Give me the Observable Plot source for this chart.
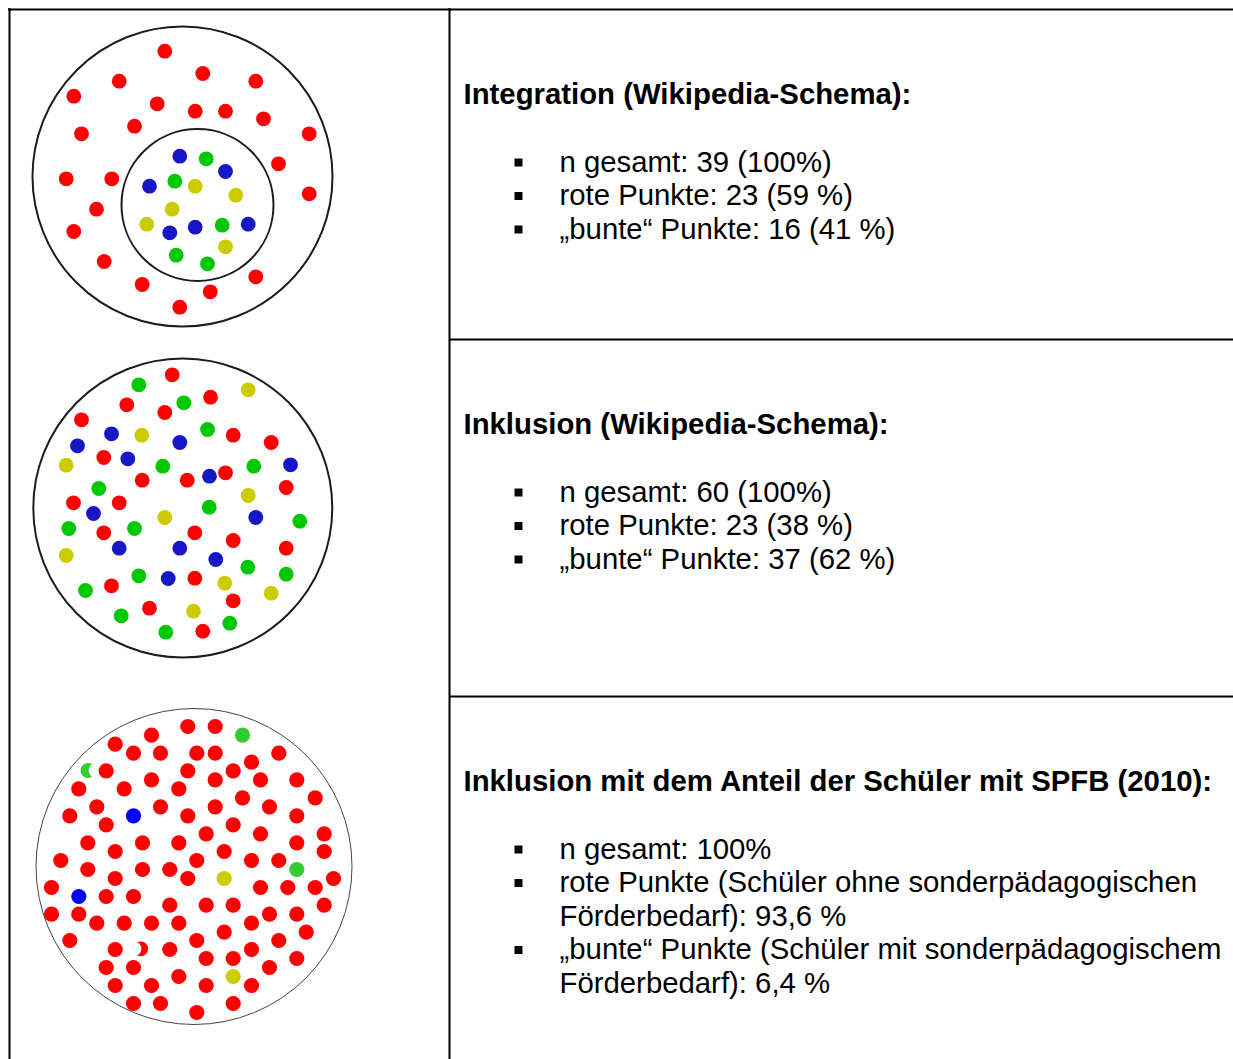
<!DOCTYPE html>
<html>
<head>
<meta charset="utf-8">
<script src="https://cdn.jsdelivr.net/npm/d3@7"></script>
<script src="https://cdn.jsdelivr.net/npm/@observablehq/plot@0.6"></script>
<style>
  html, body { margin: 0; padding: 0; background: #fff; }
</style>
</head>
<body>
<script>
// ---------- DATA ----------
// Diagram 1: Integration — 23 red, 16 coloured
const integRed = [[164.3,50.7],[202.3,73],[118.7,80.7],[255.3,80.7],[73.3,95.7],[156.7,103.3],[194.7,110.7],[225,110.7],[263,118.3],[134,125.7],[81,133.3],[308.7,133.3],[278,163.3],[65.7,178.3],[111.3,178.3],[308.7,193.3],[96,208.7],[73.3,231],[103.7,261],[255.3,276.3],[141.7,284],[209.7,291.3],[179.3,306.7]];
const integBlue = [[179.3,155.7],[225,171],[149,185.7],[169.3,232.3],[194.7,226.7],[247.7,223.7]];
const integGreen = [[205.7,158.3],[174.3,180.7],[221.7,224.7],[175.7,254.7],[207,263.3]];
const integYellow = [[194.7,185.7],[235.3,194.7],[171.7,208.7],[146.3,223.7],[225,246.3]];

// Diagram 2: Inklusion (Wikipedia)
const inklRed = [[171.7,374.3],[210,396.7],[126.3,404.3],[164.3,412],[81,419.3],[232.7,434.7],[270.7,442],[103.3,457],[141.7,479.7],[186.7,479.7],[225,472.3],[285.7,487],[73,502.3],[118.7,502.3],[103.3,532.3],[194.3,532.3],[232.7,540],[285.7,547.7],[194.3,577.7],[111,585.3],[232.7,600.3],[149,607.7],[202.3,630.7]];
const inklGreen = [[138.3,384.3],[183.3,402.3],[207,429],[162.3,465.7],[253.3,465.7],[98.3,488],[208.7,506.7],[299.3,520.7],[68.3,528],[134,528],[247.3,566.7],[285.7,573.7],[138.3,575.3],[85,590],[120.7,615.3],[229.3,622.7],[165.3,631.7]];
const inklBlue = [[111,433.3],[77,445.3],[179.3,442],[127.3,458.3],[290,464.3],[209,475.7],[93,513],[255.3,517],[118.7,547.7],[179.3,547.7],[215.3,559],[167.7,578]];
const inklYellow = [[247.7,389.3],[141.3,434.7],[65.7,464.7],[247.7,495],[164.3,517],[65.7,555],[224.3,582.7],[270.7,592.7],[193,610.7]];

// Diagram 3: Inklusion mit SPFB-Anteil (2010)
const spfbRed = [[187.3,726],[214.7,726],[151,734.7],[114.7,743.7],[133,752.7],[160,752.7],[196.3,752.7],[214.7,752.7],[278.3,752.7],[251,761.7],[105.7,770.3],[187.3,770.3],[232.7,770.3],[151,779.3],[214.7,779.3],[260,779.3],[296.3,779.3],[78.3,788.3],[123.7,788.3],[178.3,788.3],[242,797.3],[314.7,797.3],[96.3,806.3],[160,806.3],[214.7,806.3],[269,806.3],[69.3,815.3],[187.3,815.3],[296.3,815.3],[105.7,824.3],[232.7,824.3],[205.7,833.3],[260,833.3],[323.7,833.3],[87.3,842.3],[142,842.3],[178.3,842.3],[296.3,842.3],[114.7,851],[223.7,851],[323.7,851],[60.3,860],[196.3,860],[251,860],[278.3,860],[87.3,869],[142,869],[169.3,869],[114.7,878],[187.3,878],[333,878],[51,887],[260,887],[287.3,887],[314.7,887],[105.7,896],[133,896],[169.3,904.7],[205.7,904.7],[232.7,904.7],[323.7,904.7],[51,913.7],[78.3,913.7],[269,913.7],[296.3,913.7],[96.3,922.7],[123.7,922.7],[151,922.7],[178.3,922.7],[251,922.7],[223.7,931.7],[305.7,931.7],[69.3,940],[196.3,940],[278.3,940],[114.7,949],[169.3,949],[251,949],[205.7,958],[232.7,958],[296.3,958],[105.7,967],[133,967],[269,967],[178.3,976],[114.7,985],[151,985],[205.7,985],[251,985],[133,1003],[160,1003],[232.7,1003],[196.3,1012]];
const spfbGreen = [[242,734.7],[296.3,869]];
const spfbBlue = [[133,815.3],[78.3,896]];
const spfbYellow = [[223.7,878],[232.7,976]];
// half-covered ("crescent") points: colour point and its white cover
const spfbCrescents = [{p:[87.5,770], cover:[95.5,770], c:"green"}, {p:[140.2,948.3], cover:[133.5,948.3], c:"red"}];

// circles (centre x, centre y, radius)
const rings = [[182,176,150],[197,204.5,76],[182.3,507.5,149.5],[193.5,866,158]];

// text
const titles = ["Integration (Wikipedia-Schema):", "Inklusion (Wikipedia-Schema):", "Inklusion mit dem Anteil der Schüler mit SPFB (2010):"];
const lines1 = ["n gesamt: 39 (100%)", "rote Punkte: 23 (59 %)", "„bunte“ Punkte: 16 (41 %)"];
const lines2 = ["n gesamt: 60 (100%)", "rote Punkte: 23 (38 %)", "„bunte“ Punkte: 37 (62 %)"];
const lines3 = ["n gesamt: 100%", "rote Punkte (Schüler ohne sonderpädagogischen", "Förderbedarf): 93,6 %", "„bunte“ Punkte (Schüler mit sonderpädagogischem", "Förderbedarf): 6,4 %"];
const bulleted3 = [true, true, false, true, false];

// ---------- LAYOUT ----------
const W = 1233, H = 1059;
const C1 = {red:"#ff0000", blue:"#1717c6", green:"#00c800", yellow:"#cbcb00"};
const C3 = {red:"#ff0000", blue:"#0000ff", green:"#33cc33", yellow:"#cccc00"};
const FS = 29.33;
const font = "'Liberation Sans', Arial, sans-serif";
const DOT_R = 7.4;

function pts(arr, color) { return arr.map(([x, y]) => ({x, y, color})); }

const dotsTop = [
  ...pts(integRed, C1.red), ...pts(integBlue, C1.blue), ...pts(integGreen, C1.green), ...pts(integYellow, C1.yellow),
  ...pts(inklRed, C1.red), ...pts(inklBlue, C1.blue), ...pts(inklGreen, C1.green), ...pts(inklYellow, C1.yellow)
];
const dotsBottom = [
  ...pts(spfbRed, C3.red), ...pts(spfbBlue, C3.blue), ...pts(spfbGreen, C3.green), ...pts(spfbYellow, C3.yellow)
];
const crescentDots = spfbCrescents.map(d => ({x: d.p[0], y: d.p[1], color: C3[d.c]}));
const crescentCovers = spfbCrescents.map(d => ({x: d.cover[0], y: d.cover[1]}));

const ringData = rings.map(([x, y, r], i) => ({x, y, r, w: i < 3 ? 2 : 1, s: i < 3 ? "#1c1c1c" : "#444"}));

const textRows = [];
const bulletRows = [];
const titleY = [94, 424, 781];
titles.forEach((t, i) => textRows.push({x: 463, y: titleY[i], text: t, bold: true}));
const step = 33.5;
lines1.forEach((t, i) => { textRows.push({x: 559, y: 162 + i * step, text: t}); bulletRows.push({x: 518, y: 162 + i * step}); });
lines2.forEach((t, i) => { textRows.push({x: 559, y: 492 + i * step, text: t}); bulletRows.push({x: 518, y: 492 + i * step}); });
lines3.forEach((t, i) => { textRows.push({x: 559, y: 849 + i * step, text: t}); if (bulleted3[i]) bulletRows.push({x: 518, y: 849 + i * step}); });

const chart = Plot.plot({
  width: W,
  height: H,
  margin: 0,
  x: {domain: [0, W], range: [0, W], axis: null},
  y: {domain: [0, H], range: [0, H], axis: null},
  color: {type: "identity"},
  style: {fontFamily: font, background: "white", color: "black"},
  marks: [
    // table grid
    Plot.ruleY([9], {x1: 8, x2: W, stroke: "black", strokeWidth: 2}),
    Plot.ruleX([9, 449], {y1: 8, y2: H, stroke: "black", strokeWidth: 2}),
    Plot.ruleY([339, 696], {x1: 449, x2: W, stroke: "black", strokeWidth: 2}),
    // circles
    ...ringData.map(d => Plot.dot([d], {x: "x", y: "y", r: d.r, fill: "none", stroke: d.s, strokeWidth: d.w})),
    // crescents
    Plot.dot(crescentDots, {x: "x", y: "y", r: DOT_R, fill: "color", stroke: null}),
    Plot.dot(crescentCovers, {x: "x", y: "y", r: DOT_R, fill: "white", stroke: null}),
    // points
    Plot.dot(dotsTop, {x: "x", y: "y", r: DOT_R, fill: "color", stroke: null}),
    Plot.dot(dotsBottom, {x: "x", y: "y", r: DOT_R + 0.2, fill: "color", stroke: null}),
    // bullets
    Plot.dot(bulletRows, {x: "x", y: "y", symbol: "square", r: 4.5, fill: "black", stroke: null}),
    // text
    Plot.text(textRows.filter(d => d.bold), {x: "x", y: "y", text: "text", textAnchor: "start", fontSize: FS, fontWeight: "bold", fill: "black"}),
    Plot.text(textRows.filter(d => !d.bold), {x: "x", y: "y", text: "text", textAnchor: "start", fontSize: FS, fill: "black"})
  ]
});
document.body.appendChild(chart);
</script>
</body>
</html>
